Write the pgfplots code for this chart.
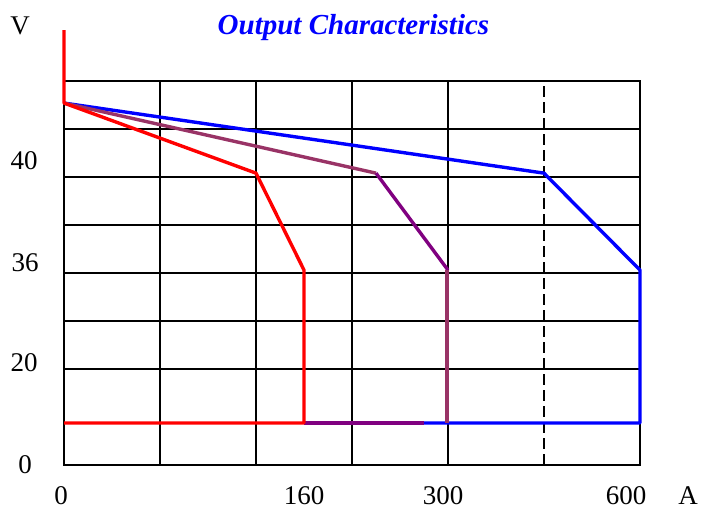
\documentclass[border=0pt]{standalone}
\usepackage{pgfplots}
\pgfplotsset{compat=1.18}
\usepackage{fontspec}
\setmainfont{Liberation Serif}

\definecolor{mauve}{RGB}{153,51,102}
\definecolor{purp}{RGB}{128,0,128}

\begin{document}
\begin{tikzpicture}[x=1bp,y=1bp]
\begin{axis}[
  at={(64bp,45bp)}, anchor=south west,
  scale only axis, width=576bp, height=384bp,
  xmin=0, xmax=6, ymin=0, ymax=8,
  xtick={1,2,3,4,6}, ytick={2,3,4,5,6,7},
  xticklabels={}, yticklabels={},
  major tick length=0pt,
  xmajorgrids, ymajorgrids,
  major grid style={black, line width=1.4bp},
  axis line style={black, line width=1.6bp},
  clip=false,
]
% dashed reference line
\draw[black, line width=1.6bp, dash pattern=on 11bp off 5bp] (axis cs:5,0) -- (axis cs:5,8);

% blue curve
\addplot[blue, line width=3.4bp, line join=round] coordinates {
(0,7.54) (5,6.08) (6,4.06) (6,0.875) (3.75,0.875)};
% purple curve (two tones)
\addplot[mauve, line width=3.4bp, line join=round] coordinates {
(0,7.54) (3.25,6.08)};
\addplot[purp, line width=3.4bp, line join=round] coordinates {
(3.25,6.08) (4,4.06)};
\addplot[mauve, line width=3.4bp, line join=round] coordinates {
(3.99,4.06) (3.99,0.875)};
\addplot[purp, line width=3.4bp] coordinates {
(2.5,0.875) (3.75,0.875)};
% red curve
\addplot[red, line width=3.4bp, line join=round] coordinates {
(0,9.06) (0,7.54) (2,6.08) (2.5,4.06) (2.5,0.875) (0,0.875)};
\end{axis}

\begin{scope}[every node/.style={font=\fontsize{27bp}{30bp}\selectfont, inner sep=0pt, anchor=base}]
\node at (20,475) {V};
\node at (24,340) {40};
\node at (25,238) {36};
\node at (24,138) {20};
\node at (25,36) {0};
\node at (61,5) {0};
\node at (304,5) {160};
\node at (443,5) {300};
\node at (626,5) {600};
\node at (688,5) {A};
\end{scope}
\node[anchor=base, inner sep=0pt, text=blue, font=\fontsize{29bp}{32bp}\selectfont\bfseries\itshape] at (353.5,475) {Output Characteristics};

\pgfresetboundingbox
\path (0,0) rectangle (701,510);
\end{tikzpicture}
\end{document}
